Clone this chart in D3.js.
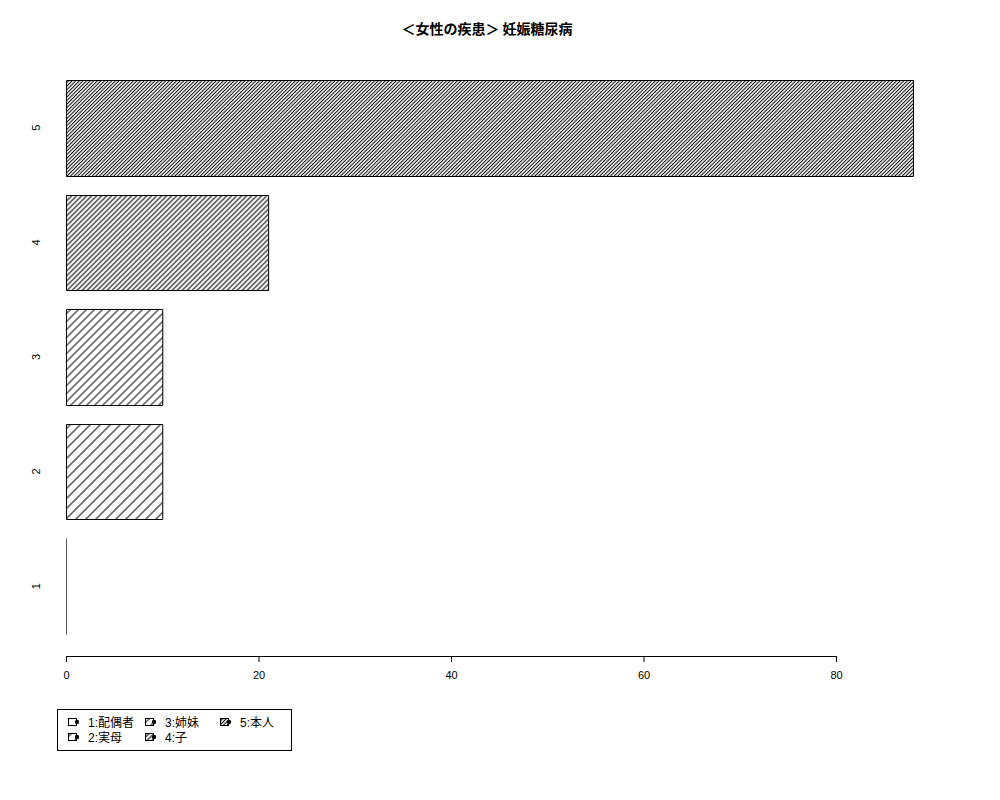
<!DOCTYPE html>
<html>
<head>
<meta charset="utf-8">
<script src="https://cdn.jsdelivr.net/npm/d3@7"></script>
<style>
  body { margin: 0; background: white; }
  svg { display: block; font-family: "Liberation Sans", "Noto Sans CJK JP", sans-serif; }
</style>
</head>
<body>
<div id="Chart"></div>
<script>
// chart data
const TitleText = '＜女性の疾患＞ 妊娠糖尿病';
const Categories = ['1', '2', '3', '4', '5'];
const Values = [0, 10, 10, 21, 88];
const LegendLabels = ['1:配偶者', '2:実母', '3:姉妹', '4:子', '5:本人'];
const HatchSpacing = [0, 10, 8, 5, 3.6];   // horizontal distance between hatch lines, px
const XTicks = [0, 20, 40, 60, 80];

const Width = 1000, Height = 800;
const Svg = d3.select('#Chart').append('svg')
              .attr('width', Width)
              .attr('height', Height);

const Defs = Svg.append('defs');
Categories.forEach((c, i) =>
{
    if (!HatchSpacing[i]) return;
    const s = HatchSpacing[i] / Math.SQRT2;
    const Pat = Defs.append('pattern')
                    .attr('id', `hatch${i}`)
                    .attr('patternUnits', 'userSpaceOnUse')
                    .attr('width', s)
                    .attr('height', 20)
                    .attr('patternTransform', 'rotate(45)');
    Pat.append('line')
       .attr('x1', s / 2).attr('x2', s / 2)
       .attr('y1', 0).attr('y2', 20)
       .attr('stroke', '#111')
       .attr('stroke-width', 1.1);
});

const xScale = d3.scaleLinear().domain([0, 80]).range([66, 836]);
const yScale = d3.scaleBand()
                 .domain(Categories.slice().reverse())
                 .range([70.45, 643.45])
                 .paddingInner(1 / 6)
                 .paddingOuter(1 / 12);

// title
Svg.append('text')
   .attr('x', 487)
   .attr('y', 34)
   .attr('text-anchor', 'middle')
   .style('font-family', '"Noto Sans CJK JP", sans-serif')
   .style('font-weight', 'bold')
   .style('font-size', '14px')
   .text(TitleText);

// bars
Categories.forEach((c, i) =>
{
    const x0 = xScale(0) + 0.5, x1 = xScale(Values[i]) + 0.5;
    const y0 = Math.round(yScale(c)) + 0.5, y1 = Math.round(yScale(c) + yScale.bandwidth()) + 0.5;
    Svg.append('path')
       .attr('d', `M${x0},${y0}H${x1}V${y1}H${x0}Z`)
       .attr('fill', HatchSpacing[i] ? `url(#hatch${i})` : 'none')
       .attr('stroke', Values[i] ? '#000' : '#555')
       .attr('stroke-width', Values[i] ? 1 : 0.8);
});

// y labels (no axis line)
Categories.forEach(c =>
{
    const cy = yScale(c) + yScale.bandwidth() / 2;
    Svg.append('text')
       .attr('transform', `translate(40, ${cy}) rotate(-90)`)
       .attr('text-anchor', 'middle')
       .style('font-size', '11px')
       .text(c);
});

// x axis
const XAxis = Svg.append('g')
                 .attr('transform', 'translate(0, 656)')
                 .call(d3.axisBottom(xScale).tickValues(XTicks).tickSize(6).tickPadding(9));
XAxis.select('.domain').attr('d', `M${xScale(0) + 0.5},0.5H${xScale(80) + 0.5}`).attr('stroke', '#000');
XAxis.selectAll('text').style('font-size', '11px').style('font-family', '"Liberation Sans", sans-serif');

// legend
const Legend = Svg.append('g');
Legend.append('rect')
      .attr('x', 57.5).attr('y', 709.5)
      .attr('width', 234).attr('height', 41)
      .attr('fill', 'none').attr('stroke', '#000');
const ColX = [68, 145, 220];
LegendLabels.forEach((lab, i) =>
{
    const col = Math.floor(i / 2), row = i % 2;
    const kx = ColX[col], ky = 718 + row * 15;
    const Item = Legend.append('g');
    Item.append('rect')
        .attr('x', kx + 0.5).attr('y', ky + 0.5)
        .attr('width', 8).attr('height', 7)
        .attr('fill', HatchSpacing[i] ? `url(#hatch${i})` : 'none')
        .attr('stroke', '#000');
    Item.append('circle')
        .attr('cx', kx + 9).attr('cy', ky + 4)
        .attr('r', 2.2)
        .attr('fill', '#000');
    Item.append('text')
        .attr('x', kx + 20).attr('y', ky + 8.5)
        .style('font-family', '"Liberation Sans", "Noto Sans CJK JP", sans-serif')
        .style('font-size', '12px')
        .text(lab);
});
</script>
</body>
</html>
